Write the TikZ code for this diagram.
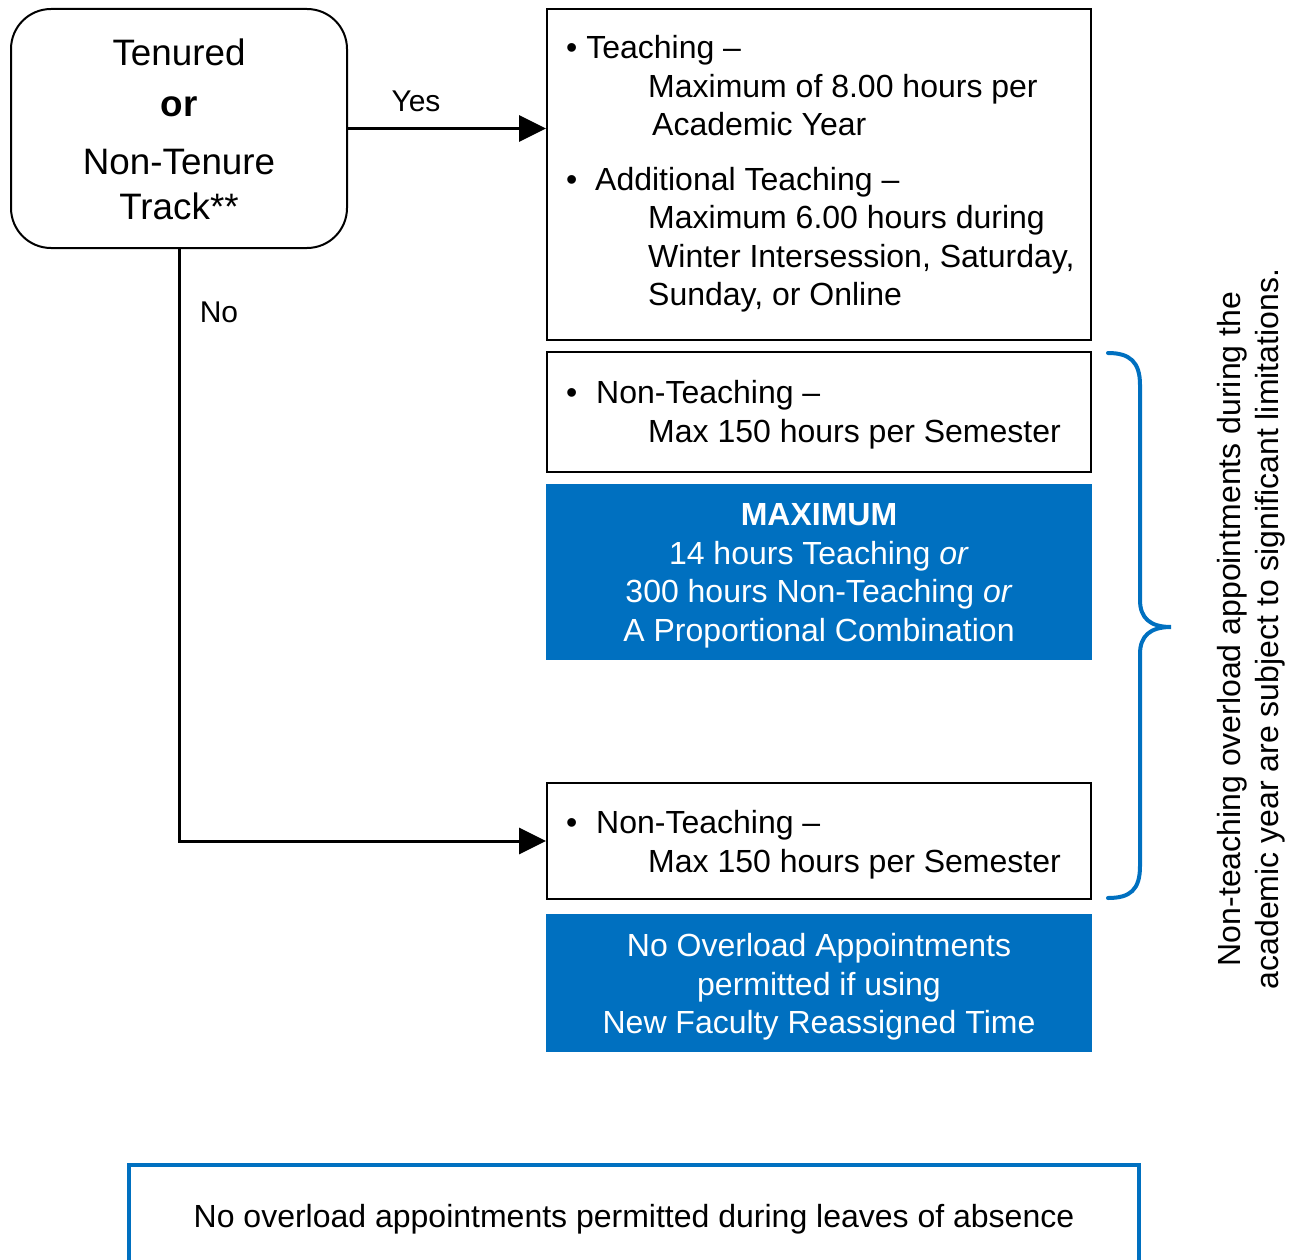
\documentclass[tikz,border=0pt]{standalone}
\usepackage{fontspec}
\setmainfont{Liberation Sans}
\usetikzlibrary{arrows.meta}
\definecolor{ublue}{HTML}{0070C0}
\tikzset{
  box/.style={draw=black, line width=2pt, inner sep=0pt, fill=white},
  bluebox/.style={fill=ublue, draw=none, inner sep=0pt},
  txt/.style={font=\fontsize{32}{38}\selectfont, inner sep=0pt, anchor=base west},
  ctxt/.style={font=\fontsize{32}{38}\selectfont, inner sep=0pt, anchor=base},
  wtxt/.style={ctxt, text=white},
  big/.style={font=\fontsize{36.8}{40}\selectfont, inner sep=0pt, anchor=base},
  lbl/.style={font=\fontsize{30}{36}\selectfont, inner sep=0pt, anchor=base},
  conn/.style={line width=3pt, -{Triangle[length=27pt,width=26pt]}},
  brace/.style={draw=ublue, line width=4pt, line cap=round}
}
\begin{document}
\begin{tikzpicture}[x=1pt,y=-1pt]
\useasboundingbox (0,0) rectangle (1293,1260);

% decision box
\node[box, rounded corners=40pt, minimum width=336pt, minimum height=239pt] (tenure) at (179,128.5) {};
\node[big] (t1) at (179,66) {Tenured};
\node[big, font=\fontsize{36.8}{40}\selectfont\bfseries] (t2) at (179,117) {or};
\node[big] (t3) at (179,175) {Non-Tenure};
\node[big] (t4) at (179,219) {Track**};

% right boxes
\node[box, minimum width=544pt, minimum height=331pt] (b1) at (819,174.5) {};
\node[box, minimum width=544pt, minimum height=120pt] (b2) at (819,412) {};
\node[bluebox, minimum width=546pt, minimum height=176pt] (m1) at (819,572) {};
\node[box, minimum width=544pt, minimum height=116pt] (b3) at (819,841) {};
\node[bluebox, minimum width=546pt, minimum height=138pt] (m2) at (819,983) {};

% box 1 text
\node[txt] (b1a) at (566,59) {• Teaching –};
\node[txt] (b1b) at (648,98) {Maximum of 8.00 hours per};
\node[txt] (b1c) at (652,136) {Academic Year};
\node[txt] (b1d) at (566,191) {•};
\node[txt] (b1e) at (595,191) {Additional Teaching –};
\node[txt] (b1f) at (648,229) {Maximum 6.00 hours during};
\node[txt] (b1g) at (648,267) {Winter Intersession, Saturday,};
\node[txt] (b1h) at (648,305) {Sunday, or Online};

% box 2 text
\node[txt] (b2a) at (566,403) {•};
\node[txt] (b2b) at (596,403) {Non-Teaching –};
\node[txt] (b2c) at (648,442) {Max 150 hours per Semester};

% blue box 1 text
\node[wtxt, font=\fontsize{32}{38}\selectfont\bfseries] (m1a) at (819,525) {MAXIMUM};
\node[wtxt] (m1b) at (819,564) {14 hours Teaching \textit{or}};
\node[wtxt] (m1c) at (819,602) {300 hours Non-Teaching \textit{or}};
\node[wtxt] (m1d) at (819,641) {A Proportional Combination};

% box 3 text
\node[txt] (b3a) at (566,833) {•};
\node[txt] (b3b) at (596,833) {Non-Teaching –};
\node[txt] (b3c) at (648,872) {Max 150 hours per Semester};

% blue box 2 text
\node[wtxt] (m2a) at (819,956) {No Overload Appointments};
\node[wtxt] (m2b) at (819,995) {permitted if using};
\node[wtxt] (m2c) at (819,1033) {New Faculty Reassigned Time};

% connectors
\draw[conn] (tenure.east) -- (tenure.east -| b1.west);
\draw[conn] (tenure.south) |- (b3.west);
\node[lbl] (yes) at (416,112) {Yes};
\node[lbl] (no) at (219,322) {No};

% brace
\draw[brace] (1108,353) .. controls (1130,353) and (1140,362) .. (1140,385)
  -- (1140,600) .. controls (1140,618) and (1150,627) .. (1171,627)
  .. controls (1150,627) and (1140,636) .. (1140,654)
  -- (1140,866) .. controls (1140,890) and (1130,898) .. (1108,898);

% rotated note
\node[ctxt, rotate=90] (n1) at (1240,629) {Non-teaching overload appointments during the};
\node[ctxt, rotate=90] (n2) at (1278,629) {academic year are subject to significant limitations.};

% bottom box
\node[ctxt] (leave) at (634,1227) {No overload appointments permitted during leaves of absence};
\draw[ublue, line width=4pt] (129,1262) -- (129,1165) -- (1139,1165) -- (1139,1262);
\end{tikzpicture}
\end{document}
